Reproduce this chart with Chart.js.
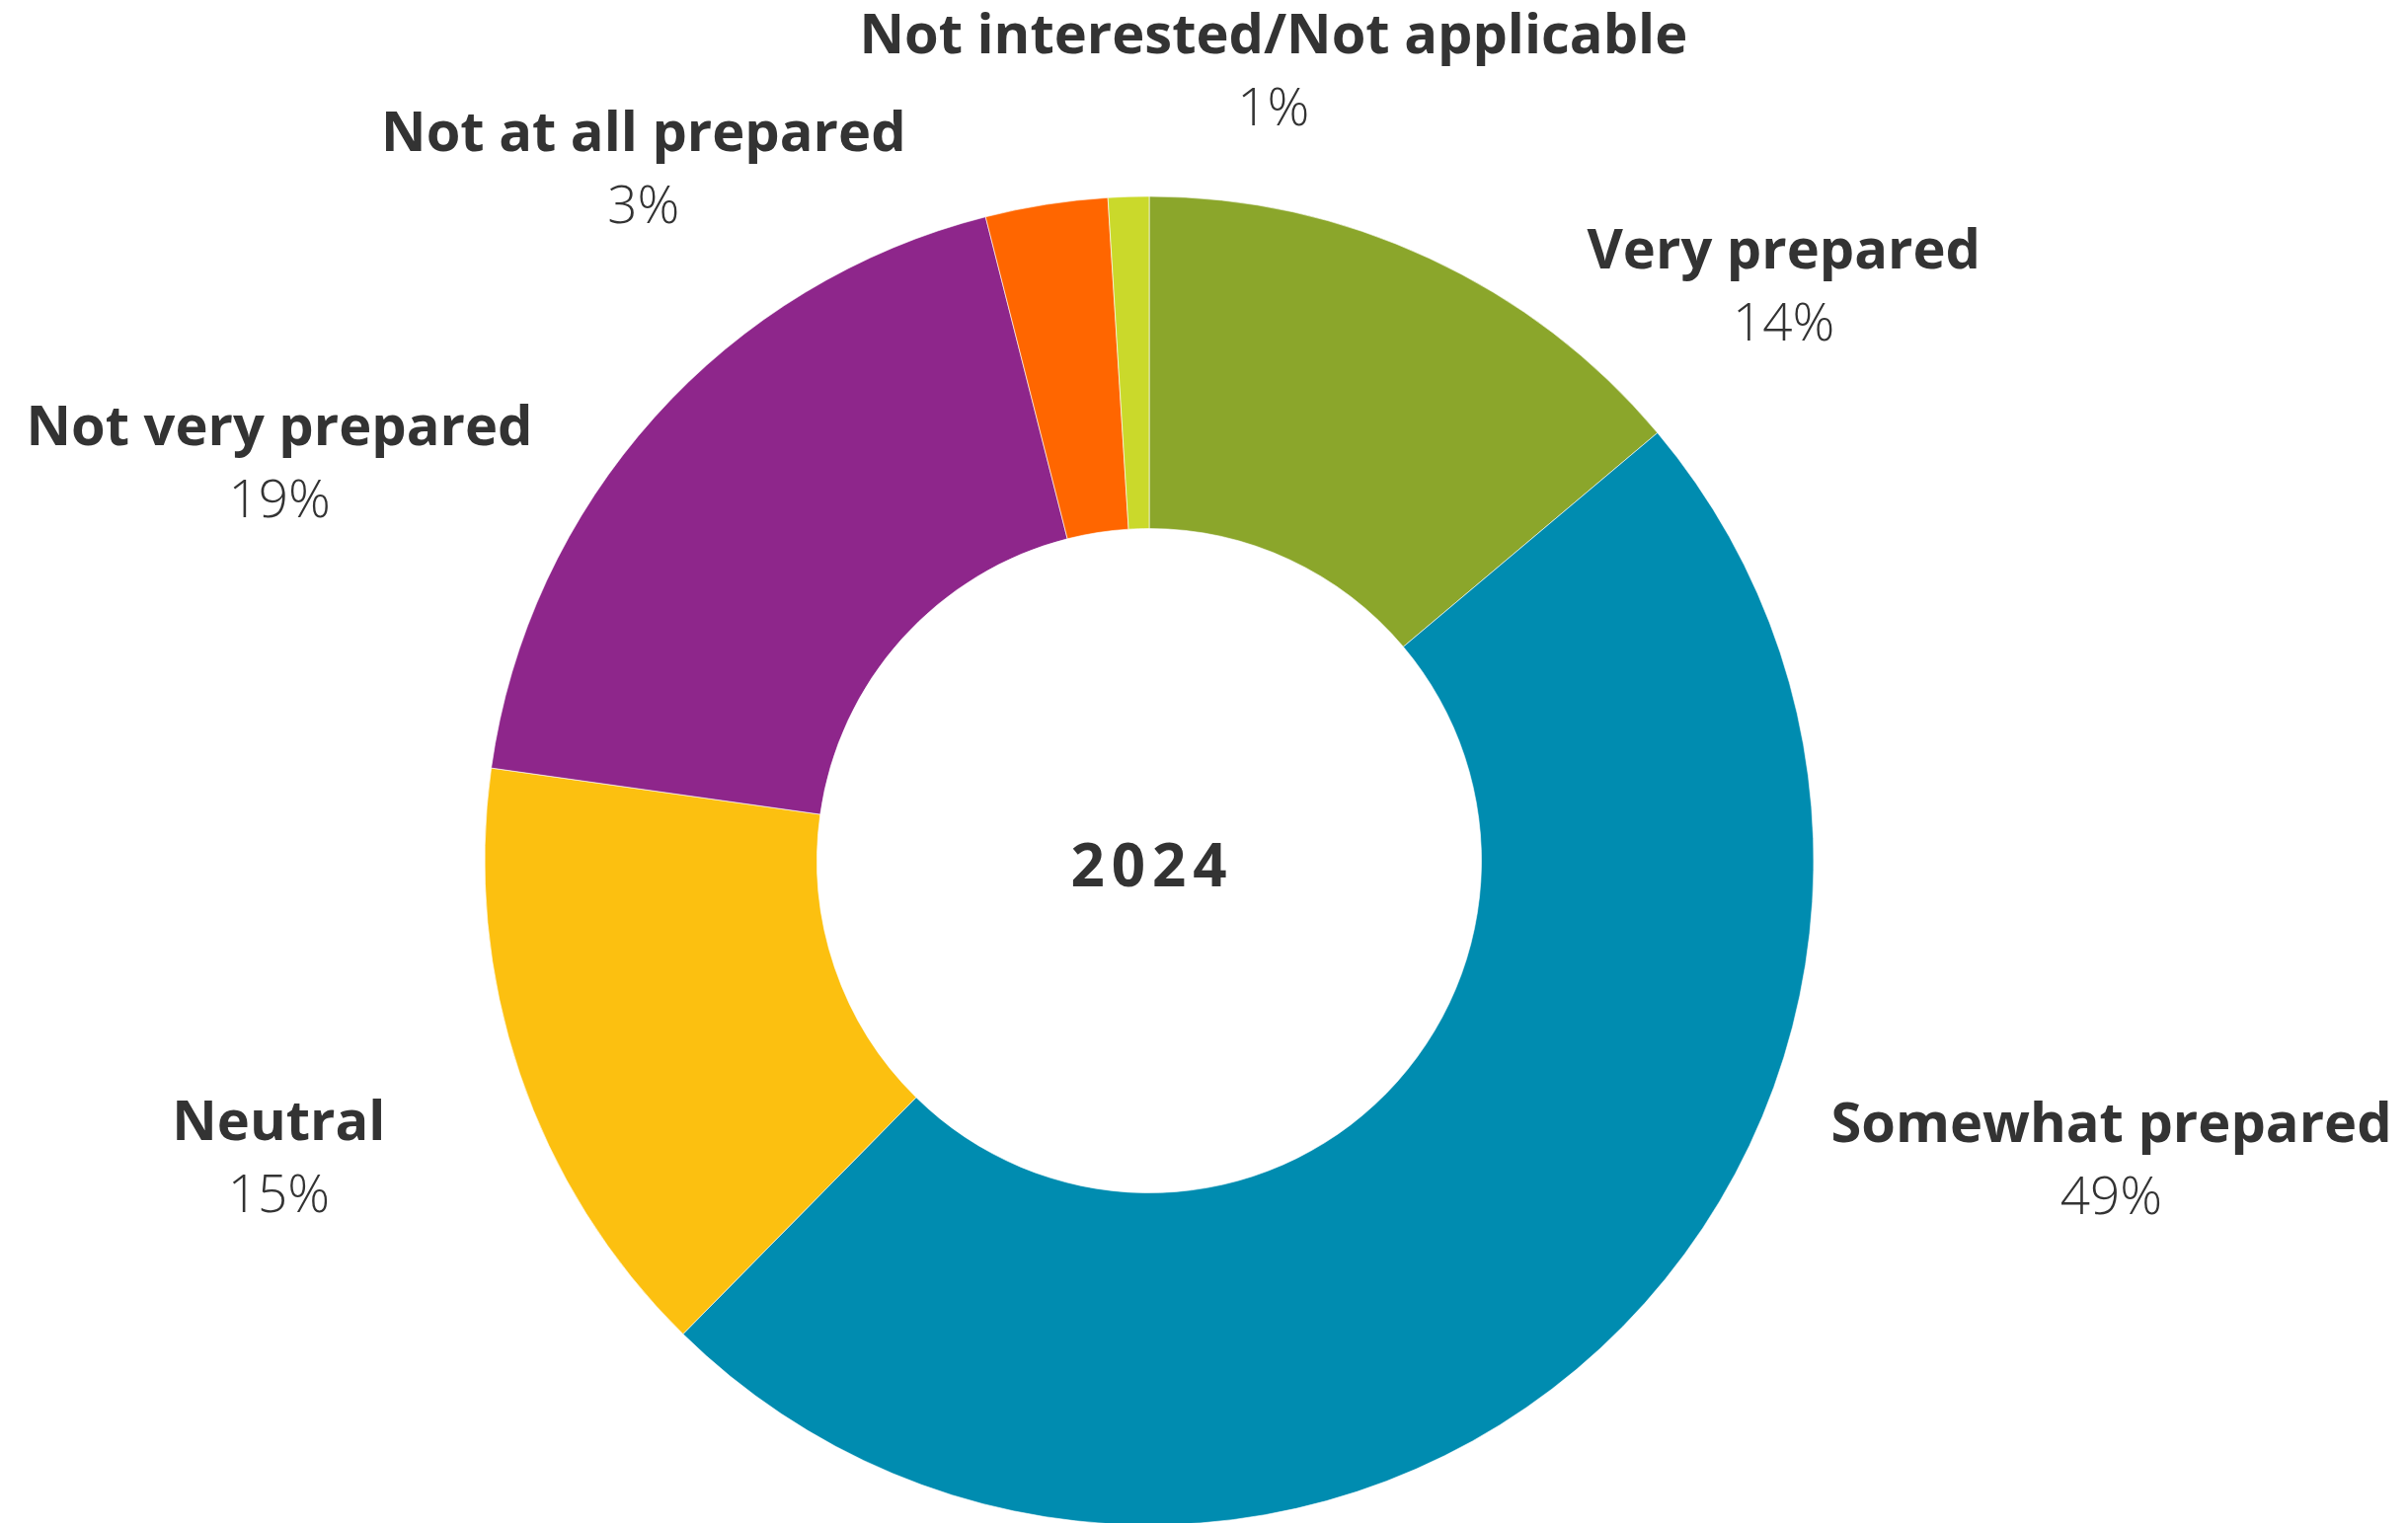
<!DOCTYPE html>
<html>
<head>
<meta charset="utf-8">
<title>Preparedness 2024</title>
<script src="https://cdn.jsdelivr.net/npm/chart.js@4.4.1/dist/chart.umd.min.js"></script>
<style>
  html, body { margin: 0; padding: 0; background: #fff; }
  #wrap { width: 2439px; height: 1543px; position: relative; }
</style>
</head>
<body>
<div id="wrap"><canvas id="prep-chart"></canvas></div>
<script>
const categories = [
  'Very prepared',
  'Somewhat prepared',
  'Neutral',
  'Not very prepared',
  'Not at all prepared',
  'Not interested/Not applicable'
];
const shares = [14, 49, 15, 19, 3, 1];
const sliceColors = ['#8ba62b', '#008cb0', '#fcc010', '#8e268b', '#ff6600', '#cad92b'];
const centerTitle = '2024';

// where each label sits, in units of the outer radius from the centre (x, name baseline y)
const labelSpots = [
  [0.955, -0.891],
  [1.448, 0.424],
  [-1.310, 0.421],
  [-1.309, -0.625],
  [-0.761, -1.069],
  [0.187, -1.215]
];

const TEXT = '#333333';

const outsideLabels = {
  id: 'outsideLabels',
  afterDatasetsDraw(chart) {
    const ctx = chart.ctx;
    const meta = chart.getDatasetMeta(0);
    ctx.save();
    ctx.fillStyle = TEXT;
    ctx.textAlign = 'center';
    ctx.textBaseline = 'alphabetic';
    meta.data.forEach((arc, i) => {
      const { x, y, outerRadius } = arc.getProps(['x', 'y', 'outerRadius'], true);
      const lx = x + labelSpots[i][0] * outerRadius;
      const ly = y + labelSpots[i][1] * outerRadius;
      ctx.font = 'bold 56px "Open Sans", sans-serif';
      ctx.fillText(categories[i], lx, ly);
      ctx.font = '300 53px "Open Sans", sans-serif';
      ctx.fillText(chart.data.datasets[0].data[i] + '%', lx, ly + 73);
    });
    // year in the hole
    const first = meta.data[0];
    ctx.font = 'bold 60px "Open Sans", sans-serif';
    ctx.letterSpacing = '7px';
    ctx.fillText(centerTitle, first.x + 3, first.y + 26);
    ctx.restore();
  }
};

new Chart(document.getElementById('prep-chart'), {
  type: 'doughnut',
  data: {
    labels: categories,
    datasets: [{
      data: shares,
      backgroundColor: sliceColors,
      borderColor: 'rgba(255,255,255,0.6)',
      borderWidth: 1
    }]
  },
  options: {
    responsive: true,
    maintainAspectRatio: false,
    animation: false,
    cutout: '50%',
    radius: 673,
    layout: { padding: { top: 201, right: 111, left: 0, bottom: 0 } },
    plugins: {
      legend: { display: false },
      tooltip: { enabled: false }
    }
  },
  plugins: [outsideLabels]
});
</script>
</body>
</html>
